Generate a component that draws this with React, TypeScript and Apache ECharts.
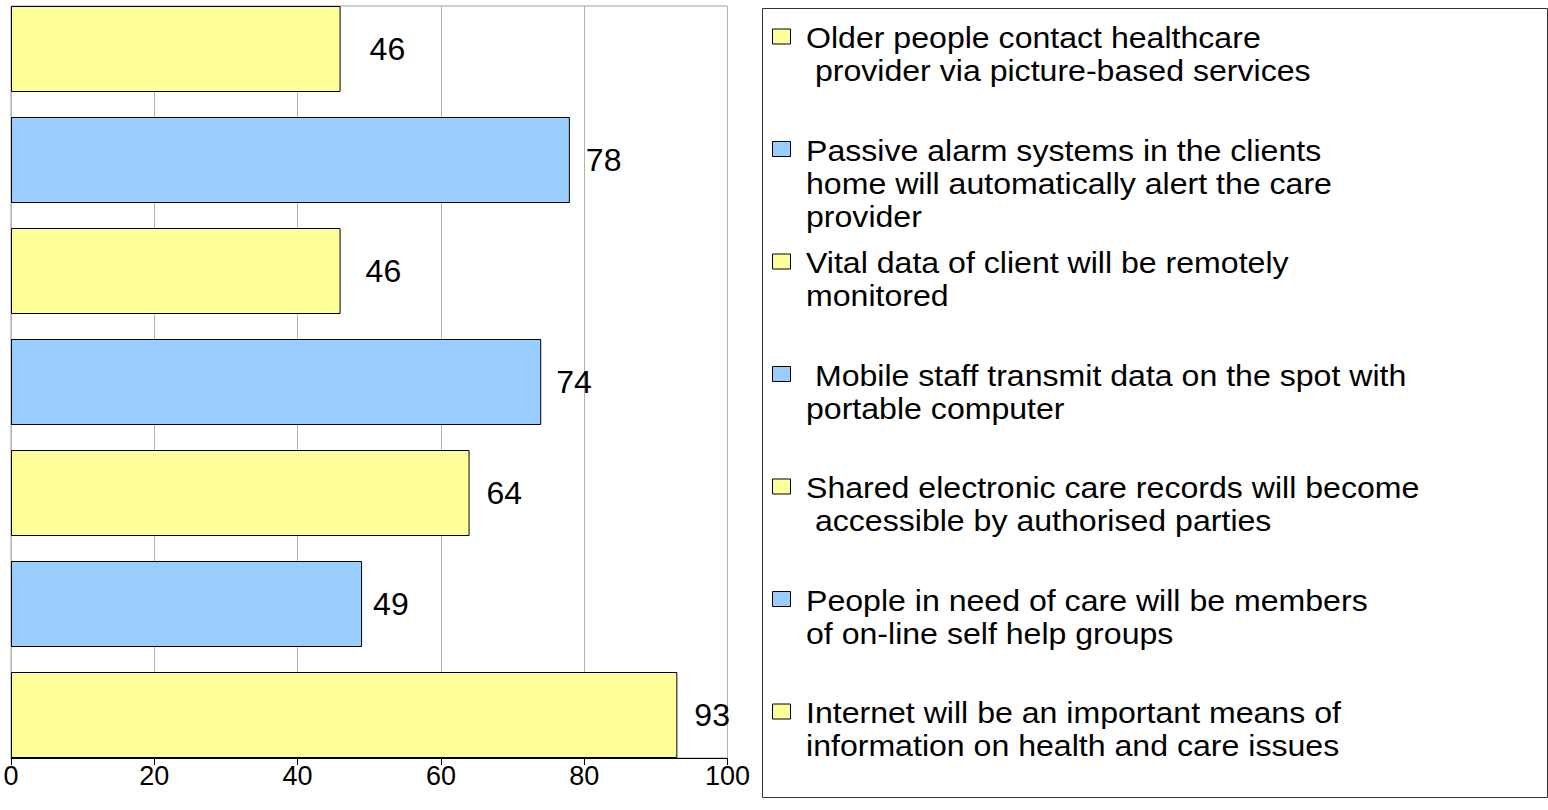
import React, { useEffect, useRef } from "react";
import * as echarts from "echarts";

// ---- data ----
const categories: string[] = [
  "Older people contact healthcare provider via picture-based services",
  "Passive alarm systems in the clients home will automatically alert the care provider",
  "Vital data of client will be remotely monitored",
  "Mobile staff transmit data on the spot with portable computer",
  "Shared electronic care records will become accessible by authorised parties",
  "People in need of care will be members of on-line self help groups",
  "Internet will be an important means of information on health and care issues",
];
const legendLabels: string[] = [
  "Older people contact healthcare\n provider via picture-based services",
  "Passive alarm systems in the clients\nhome will automatically alert the care\nprovider",
  "Vital data of client will be remotely\nmonitored",
  " Mobile staff transmit data on the spot with\nportable computer",
  "Shared electronic care records will become\n accessible by authorised parties",
  "People in need of care will be members\nof on-line self help groups",
  "Internet will be an important means of\ninformation on health and care issues",
];
const values: number[] = [46, 78, 46, 74, 64, 49, 93];
const xTickValues: number[] = [0, 20, 40, 60, 80, 100];

// ---- styles ----
const YELLOW = "#FFFF99";
const BLUE = "#99CCFF";
const barColors = [YELLOW, BLUE, YELLOW, BLUE, YELLOW, BLUE, YELLOW];
const labelDistances = [29, 16, 25, 15, 17, 11, 17];
const FONT = "'Liberation Sans', Arial, sans-serif";

// the canvas is shifted up by OFF px so the bar grid may start above the page top
const OFF = 30;

export default function App() {
  const ref = useRef<HTMLDivElement>(null);

  useEffect(() => {
    if (!ref.current) return;
    const chart = echarts.init(ref.current, null, { renderer: "svg" });

    const plotLeft = 11;
    const plotTop = 6 + OFF;
    const plotWidth = 716.5;
    const plotHeight = 752;
    const band = 111;
    const barW = 86;
    const gap = band - barW;

    const legendTextTop0 = 21.5 + OFF;
    const legendStep = 112.5;

    const graphic: any[] = [
      {
        type: "rect",
        shape: { x: 762.5, y: 8.5 + OFF, width: 785, height: 789 },
        style: { fill: "#ffffff", stroke: "#333333", lineWidth: 1 },
        silent: true,
      },
    ];
    legendLabels.forEach((txt, i) => {
      const y0 = legendTextTop0 + i * legendStep;
      graphic.push({
        type: "rect",
        shape: { x: 772.5, y: y0 + 7.5, width: 18, height: 15 },
        style: { fill: barColors[i], stroke: "#000000", lineWidth: 1 },
        silent: true,
      });
      graphic.push({
        type: "text",
        x: 806,
        y: y0,
        scaleX: 1.07,
        style: {
          text: txt,
          fontSize: 30,
          lineHeight: 33,
          fontFamily: FONT,
          fill: "#000000",
          verticalAlign: "top",
          align: "left",
        },
        silent: true,
      });
    });

    chart.setOption({
      animation: false,
      backgroundColor: "#ffffff",
      grid: [
        {
          left: plotLeft,
          top: plotTop,
          width: plotWidth,
          height: plotHeight,
          show: true,
          borderColor: "#a0a0a0",
          borderWidth: 1,
          backgroundColor: "transparent",
          containLabel: false,
        },
        {
          left: plotLeft,
          top: plotTop - gap / 2,
          width: plotWidth,
          height: band * categories.length,
          containLabel: false,
        },
      ],
      xAxis: [
        {
          gridIndex: 0,
          type: "value",
          min: xTickValues[0],
          max: xTickValues[xTickValues.length - 1],
          interval: xTickValues[1] - xTickValues[0],
          axisLine: { show: true, lineStyle: { color: "#000000", width: 1 } },
          axisTick: { show: true, length: 7, lineStyle: { color: "#000000" } },
          axisLabel: {
            fontSize: 27,
            color: "#000000",
            fontFamily: FONT,
            margin: 4,
          },
          splitLine: { show: true, lineStyle: { color: "#b3b3b3", width: 1 } },
        },
        {
          gridIndex: 1,
          type: "value",
          min: xTickValues[0],
          max: xTickValues[xTickValues.length - 1],
          show: false,
        },
      ],
      yAxis: [
        {
          gridIndex: 0,
          type: "category",
          data: categories,
          inverse: true,
          show: false,
        },
        {
          gridIndex: 1,
          type: "category",
          data: categories,
          inverse: true,
          show: false,
        },
      ],
      series: [
        {
          type: "bar",
          xAxisIndex: 1,
          yAxisIndex: 1,
          barWidth: barW,
          itemStyle: { borderColor: "#000000", borderWidth: 1 },
          label: {
            show: true,
            position: "right",
            fontSize: 32,
            color: "#000000",
            fontFamily: FONT,
          },
          data: values.map((v, i) => ({
            value: v,
            itemStyle: { color: barColors[i] },
            label: { distance: labelDistances[i] },
          })),
        },
      ],
      graphic,
    });

    return () => chart.dispose();
  }, []);

  return (
    <div
      ref={ref}
      style={{ position: "absolute", left: 0, top: -OFF, width: 1548, height: 810 + OFF }}
    />
  );
}
